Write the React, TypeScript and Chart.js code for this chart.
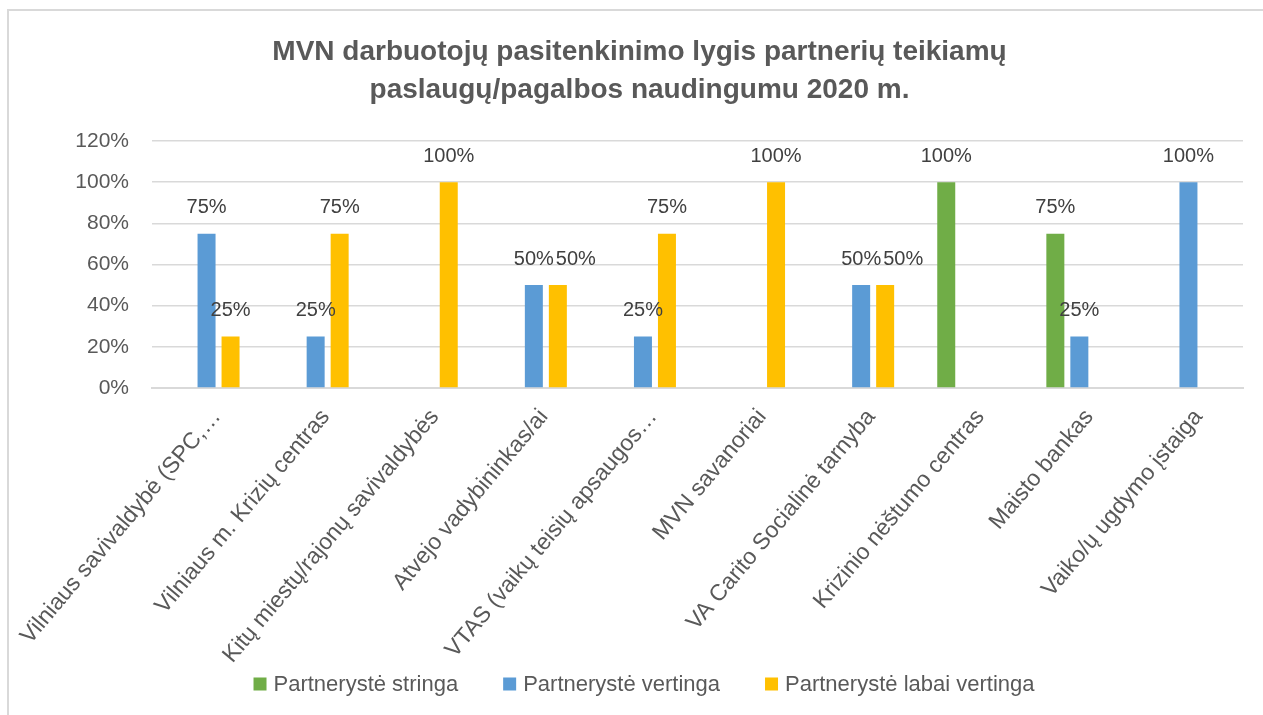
import React, { useEffect, useRef } from "react";
import { Chart, registerables } from "chart.js";

Chart.register(...registerables);

const title = [
  "MVN darbuotojų pasitenkinimo lygis partnerių teikiamų",
  "paslaugų/pagalbos naudingumu 2020 m.",
];

const categories = [
  "Vilniaus savivaldybė (SPC,…",
  "Vilniaus m. Krizių centras",
  "Kitų miestų/rajonų savivaldybės",
  "Atvejo vadybininkas/ai",
  "VTAS (vaikų teisių apsaugos…",
  "MVN savanoriai",
  "VA Carito Socialinė tarnyba",
  "Krizinio nėštumo centras",
  "Maisto bankas",
  "Vaiko/ų ugdymo įstaiga",
];

const seriesNames = [
  "Partnerystė stringa",
  "Partnerystė vertinga",
  "Partnerystė labai vertinga",
];

const stringa = [null, null, null, null, null, null, null, 100, 75, null];
const vertinga = [75, 25, null, 50, 25, null, 50, null, 25, 100];
const labaiVertinga = [25, 75, 100, 50, 75, 100, 50, null, null, null];

const yMax = 120;
const yStep = 20;

const colors = ["#70AD47", "#5B9BD5", "#FFC000"];
const FONT = "'Liberation Sans', Arial, sans-serif";
const TEXT = "#595959";

const titlePlugin = {
  id: "customTitle",
  afterDraw(chart: any) {
    const ctx = chart.ctx;
    ctx.save();
    ctx.font = `bold 28px ${FONT}`;
    ctx.fillStyle = TEXT;
    ctx.textAlign = "center";
    ctx.textBaseline = "alphabetic";
    const baselines = [59.5, 98];
    title.forEach((line, i) => ctx.fillText(line, 639.5, baselines[i]));
    ctx.restore();
  },
};

const dataLabelPlugin = {
  id: "dataLabels",
  afterDatasetsDraw(chart: any) {
    const ctx = chart.ctx;
    ctx.save();
    ctx.font = `20px ${FONT}`;
    ctx.fillStyle = "#404040";
    ctx.textAlign = "center";
    ctx.textBaseline = "middle";
    const n = chart.data.labels.length;
    for (let j = 0; j < n; j++) {
      const placed: { l: number; r: number; y: number }[] = [];
      chart.data.datasets.forEach((ds: any, i: number) => {
        const v = ds.data[j];
        if (v == null || v === 0) return;
        const el = chart.getDatasetMeta(i).data[j];
        const text = v + "%";
        const w = ctx.measureText(text).width;
        let cx = el.x;
        const cy = el.y - 26;
        placed.forEach((p) => {
          if (Math.abs(p.y - cy) < 14 && cx - w / 2 < p.r) {
            cx = p.r + w / 2 + 2;
          }
        });
        placed.push({ l: cx - w / 2, r: cx + w / 2, y: cy });
        ctx.fillText(text, cx, cy);
      });
    }
    ctx.restore();
  },
};

const customLegendPlugin = {
  id: "customLegend",
  afterDraw(chart: any) {
    const ctx = chart.ctx;
    ctx.save();
    ctx.font = `22px ${FONT}`;
    ctx.textBaseline = "middle";
    ctx.textAlign = "left";
    const box = 13;
    const gapBoxText = 7;
    const gapItems = 45;
    const items = chart.data.datasets.map((ds: any) => ({
      label: ds.label,
      color: ds.backgroundColor,
      w: ctx.measureText(ds.label).width,
    }));
    let total = 0;
    items.forEach((it: any, i: number) => {
      total += box + gapBoxText + it.w + (i < items.length - 1 ? gapItems : 0);
    });
    const cy = 684;
    let x = 644 - total / 2;
    items.forEach((it: any) => {
      ctx.fillStyle = it.color;
      ctx.fillRect(x, cy - box / 2, box, box);
      x += box + gapBoxText;
      ctx.fillStyle = TEXT;
      ctx.fillText(it.label, x, cy + 1);
      x += it.w + gapItems;
    });
    ctx.restore();
  },
};

export default function App() {
  const ref = useRef<HTMLCanvasElement | null>(null);

  useEffect(() => {
    if (!ref.current) return;
    Chart.defaults.font.family = FONT;
    const chart = new Chart(ref.current, {
      type: "bar",
      data: {
        labels: categories,
        datasets: [
          { label: seriesNames[0], data: stringa, backgroundColor: colors[0] },
          { label: seriesNames[1], data: vertinga, backgroundColor: colors[1] },
          { label: seriesNames[2], data: labaiVertinga, backgroundColor: colors[2] },
        ] as any,
      },
      options: {
        responsive: false,
        animation: false,
        layout: { padding: { left: 0, right: 20, top: 141, bottom: 0 } },
        datasets: {
          bar: { categoryPercentage: 0.66, barPercentage: 0.75 },
        },
        plugins: {
          legend: { display: false },
          tooltip: { enabled: false },
          title: { display: false },
        },
        scales: {
          x: {
            grid: { display: false, drawTicks: false },
            border: { display: true, color: "#d9d9d9", width: 2 },
            ticks: {
              color: TEXT,
              font: { size: 23 },
              minRotation: 50,
              maxRotation: 50,
              autoSkip: false,
              padding: 16,
              labelOffset: 10,
            },
            afterFit(scale: any) {
              scale.height = 715 - 388;
              scale.paddingLeft = 0;
              scale.paddingRight = 0;
            },
          },
          y: {
            min: 0,
            max: yMax,
            grid: { color: "#d9d9d9", lineWidth: 1.5, drawTicks: false },
            border: { display: false },
            ticks: {
              stepSize: yStep,
              color: TEXT,
              font: { size: 21 },
              padding: 23,
              callback: (v: any) => v + "%",
            },
            afterFit(scale: any) {
              scale.width = 152;
              scale.paddingTop = 0;
              scale.paddingBottom = 0;
            },
          },
        },
      } as any,
      plugins: [dataLabelPlugin, customLegendPlugin, titlePlugin],
    });
    return () => chart.destroy();
  }, []);

  return (
    <div
      style={{
        position: "absolute",
        left: 0,
        top: 0,
        width: 1263,
        height: 715,
        overflow: "hidden",
        background: "#fff",
      }}
    >
      <canvas
        ref={ref}
        width={1263}
        height={715}
        style={{ position: "absolute", left: 0, top: 0 }}
      />
      <div
        style={{
          position: "absolute",
          left: 7,
          top: 9,
          right: -20,
          bottom: -20,
          borderLeft: "2px solid #d9d9d9",
          borderTop: "2px solid #d9d9d9",
          pointerEvents: "none",
        }}
      />
    </div>
  );
}
